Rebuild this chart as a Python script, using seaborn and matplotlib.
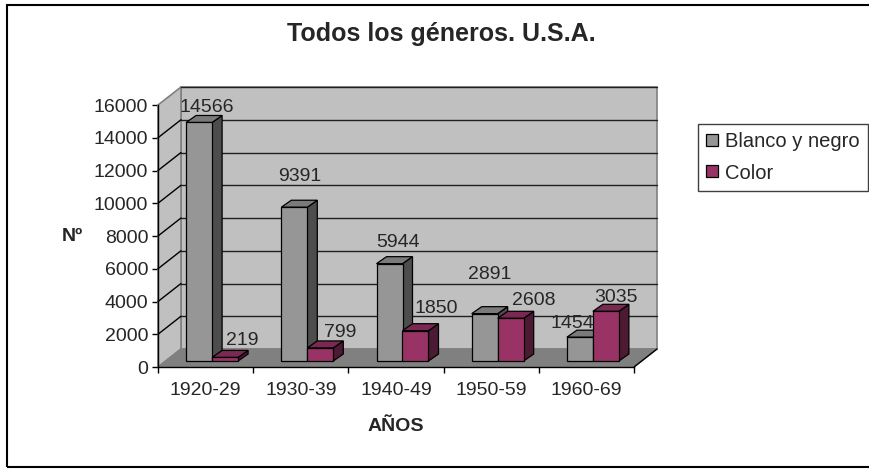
import matplotlib
matplotlib.use("Agg")
import matplotlib.pyplot as plt
import seaborn as sns
import pandas as pd
from matplotlib.patches import Polygon, Rectangle, Patch
from matplotlib.lines import Line2D

# ---------------- data ----------------
periods = ["1920-29", "1930-39", "1940-49", "1950-59", "1960-69"]
bw_values = [14566, 9391, 5944, 2891, 1454]
color_values = [219, 799, 1850, 2608, 3035]
series_names = ["Blanco y negro", "Color"]
y_ticks = [0, 2000, 4000, 6000, 8000, 10000, 12000, 14000, 16000]

df = pd.DataFrame({
    "periodo": periods * 2,
    "n": bw_values + color_values,
    "tipo": [series_names[0]] * len(periods) + [series_names[1]] * len(periods),
})

# ---------------- style ----------------
sns.set_style("white")
plt.rcParams["font.family"] = ["Liberation Sans", "DejaVu Sans"]

front_cols = ["#969696", "#993366"]
side_cols = ["#4D4D4D", "#4D1A33"]
top_cols = ["#7A7A7A", "#7A2952"]

W, H = 869, 469
fig = plt.figure(figsize=(W / 100, H / 100), dpi=100)
fig.patch.set_facecolor("white")

# front plane of the plot in pixels
fx0, fx1, fy0, fy1 = 158, 634, 367, 105
ax = fig.add_axes([fx0 / W, 1 - fy0 / H, (fx1 - fx0) / W, (fy0 - fy1) / H])
ax.set_facecolor("none")

ymax = y_ticks[-1]
ux = 5 / (fx1 - fx0)          # category units per pixel
uy = ymax / (fy0 - fy1)       # value units per pixel

wall_dx, wall_dy = 23 * ux, 18 * uy
bar_dx, bar_dy = 6.5 * ux, 6 * uy
dep_dx, dep_dy = 10 * ux, 7 * uy

sns.barplot(data=df, x="periodo", y="n", hue="tipo", palette=front_cols,
            width=0.546, saturation=1, edgecolor="black", linewidth=0.9,
            ax=ax, legend=False, zorder=3)
bars = [p for p in ax.patches if isinstance(p, Rectangle)]

ax.set_xlim(-0.5, 4.5)
ax.set_ylim(0, ymax)

L, R = -0.5, 4.5
# walls and floor
back = Polygon([(L + wall_dx, wall_dy), (R + wall_dx, wall_dy),
                (R + wall_dx, ymax + wall_dy), (L + wall_dx, ymax + wall_dy)],
               closed=True, facecolor="#C0C0C0", edgecolor="#808080", lw=1.2,
               zorder=0.5, clip_on=False)
left = Polygon([(L, 0), (L + wall_dx, wall_dy), (L + wall_dx, ymax + wall_dy), (L, ymax)],
               closed=True, facecolor="#C0C0C0", edgecolor="#808080", lw=1.2,
               zorder=0.6, clip_on=False)
floor = Polygon([(L, 0), (R, 0), (R + wall_dx, wall_dy), (L + wall_dx, wall_dy)],
                closed=True, facecolor="#808080", edgecolor="#808080", lw=1,
                zorder=1, clip_on=False)
for p in (back, left, floor):
    ax.add_patch(p)
ax.add_line(Line2D([R, R + wall_dx], [0, wall_dy], color="black", lw=1,
                   zorder=1.1, clip_on=False))

for t in y_ticks[1:]:
    ax.add_line(Line2D([L + wall_dx, R + wall_dx], [t + wall_dy, t + wall_dy],
                       color="#202020", lw=1, zorder=0.8, clip_on=False))
for t in y_ticks[1:-1]:
    ax.add_line(Line2D([L, L + wall_dx], [t, t + wall_dy],
                       color="black", lw=1, zorder=0.8, clip_on=False))

# 3D bars
label_off = {  # pixel offsets of labels relative to front-top centre
    (0, 0): (8, 10), (1, 0): (5, 26), (2, 0): (8.5, 17), (3, 0): (5, 35), (4, 0): (-8, 9),
    (0, 1): (17, 12), (1, 1): (20, 11), (2, 1): (21, 18), (3, 1): (23, 13), (4, 1): (10, 9),
}
for p in bars:
    x, w, h = p.get_x(), p.get_width(), p.get_height()
    c = x + w / 2
    cat = int(round(c))
    hi = 0 if c < cat else 1
    nx, ny = x + bar_dx, bar_dy
    p.set_x(nx)
    p.set_y(ny)
    z = 3 + hi * 0.5
    p.set_zorder(z + 0.2)
    side = Polygon([(nx + w, ny), (nx + w + dep_dx, ny + dep_dy),
                    (nx + w + dep_dx, ny + h + dep_dy), (nx + w, ny + h)],
                   closed=True, facecolor=side_cols[hi], edgecolor="black", lw=0.9,
                   zorder=z, clip_on=False)
    top = Polygon([(nx, ny + h), (nx + dep_dx, ny + h + dep_dy),
                   (nx + w + dep_dx, ny + h + dep_dy), (nx + w, ny + h)],
                  closed=True, facecolor=top_cols[hi], edgecolor="black", lw=0.9,
                  zorder=z + 0.1, clip_on=False)
    ax.add_patch(side)
    ax.add_patch(top)
    dx, dy = label_off[(cat, hi)]
    ax.annotate(f"{int(round(h))}", xy=(nx + w / 2, ny + h),
                xytext=(dx * 0.72, dy * 0.72), textcoords="offset points",
                ha="center", va="baseline", fontsize=14, zorder=6,
                annotation_clip=False)

# axes
for s in ("top", "right"):
    ax.spines[s].set_visible(False)
for s in ("left", "bottom"):
    ax.spines[s].set_color("black")
    ax.spines[s].set_linewidth(1)
    ax.spines[s].set_zorder(2)
ax.set_yticks(y_ticks)
ax.set_yticklabels([str(t) for t in y_ticks])
ax.set_xticks(range(len(periods)))
ax.set_xticklabels(periods)
ax.set_xticks([i - 0.5 for i in range(len(periods) + 1)], minor=True)
ax.tick_params(axis="y", direction="out", length=4, width=1, labelsize=14, pad=3,
               left=True, color="black")
ax.tick_params(axis="x", which="major", length=0, labelsize=14, pad=11)
ax.tick_params(axis="x", which="minor", direction="out", length=4, width=1,
               bottom=True, color="black")

ax.set_xlabel("AÑOS", fontsize=14, fontweight="bold")
ax.xaxis.set_label_coords(0.5, -(418 - fy0) / (fy0 - fy1))
ax.set_ylabel("Nº", fontsize=14, fontweight="bold", rotation=0, ha="center", va="center")
ax.yaxis.set_label_coords((72 - fx0) / (fx1 - fx0), (fy0 - 236) / (fy0 - fy1))

fig.text(441 / W, 1 - 34 / H, "Todos los géneros. U.S.A.", fontsize=18,
         fontweight="bold", ha="center", va="center")

handles = [Patch(facecolor=front_cols[i], edgecolor="black", lw=0.9, label=series_names[i])
           for i in range(2)]
leg = fig.legend(handles=handles, loc="upper left",
                 bbox_to_anchor=(698 / W, 1 - 124 / H), frameon=True, fancybox=False,
                 edgecolor="#404040", framealpha=1, fontsize=14.5, handlelength=0.55,
                 handleheight=0.55, handletextpad=0.35, labelspacing=0.6,
                 borderpad=0.42, borderaxespad=0)
leg.get_frame().set_linewidth(1)

fig.patches.append(Rectangle((7 / W, 1 - 467 / H), (W + 10) / W, (467 - 5) / H,
                             transform=fig.transFigure, fill=False,
                             edgecolor="black", lw=1.5, zorder=10))

fig.savefig("out.png", dpi=100)
